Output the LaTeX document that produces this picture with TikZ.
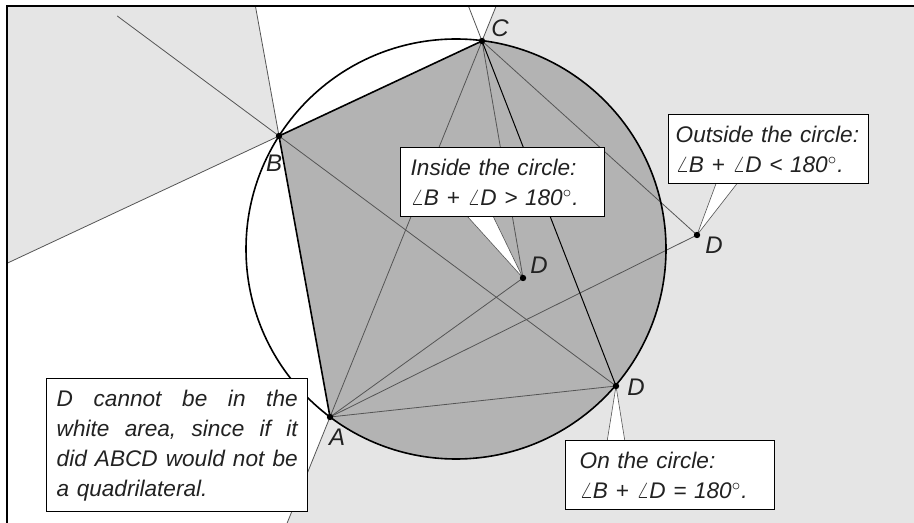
\documentclass[tikz,border=0pt]{standalone}
\usepackage{fontspec}
\setmainfont{Liberation Sans}
\usetikzlibrary{calc}
\definecolor{ShadeDark}{HTML}{B3B3B3}
\definecolor{ShadeLight}{HTML}{E5E5E5}
\definecolor{LineGray}{HTML}{555555}
\definecolor{TextInk}{HTML}{222222}

\begin{document}
\begin{tikzpicture}[x=0.5pt, y=-0.5pt,
      thinline/.style={LineGray, line width=0.4pt},
      side/.style={black, line width=0.8pt},
      pointer/.style={fill=white, draw=LineGray, line width=0.3pt},
      box/.style={draw=black, line width=0.7pt, fill=white, anchor=north west,
                  inner xsep=5pt, inner ysep=5.5pt, align=left, text=TextInk,
                  font=\fontsize{11.3}{15}\selectfont\itshape},
      lbl/.style={text=TextInk, inner sep=0pt, font=\fontsize{12}{14}\selectfont\itshape}]
  \useasboundingbox (0,0) rectangle (914,523);

  % Circle points and the three places of D
  \coordinate (O) at (456,249);
  \coordinate (A) at (330,417);
  \coordinate (B) at (279,136);
  \coordinate (C) at (482,41);
  \coordinate (Din) at (523,278);
  \coordinate (Don) at (616,386);
  \coordinate (Dout) at (697,235);

  \begin{scope}
    \clip (7,6) rectangle (914,523);
    % Regions
    \fill[ShadeLight] ($(A)!1.2!(C)$) -- (1000,-40) -- (1000,600) -- ($(A)!-0.4!(C)$) -- cycle;
    \fill[ShadeLight] (B) -- ($(A)!1.6!(B)$) -- (-100,-100) -- ($(C)!2.6!(B)$) -- cycle;
    \fill[ShadeDark] (B) -- (C) arc[start angle=277.1, end angle=486.9, radius=210] -- cycle;

    % Lines
    \draw[thinline] ($(A)!-0.4!(C)$) -- ($(A)!1.2!(C)$);
    \draw[thinline] (B) -- ($(A)!1.6!(B)$);
    \draw[thinline] (B) -- ($(C)!2.6!(B)$);
    \draw[thinline] (C) -- ($(Don)!1.2!(C)$);
    \draw[thinline] ($(B)!-0.48!(Don)$) -- (Don);
    \foreach \p in {Din, Dout} {
      \draw[thinline] (A) -- (\p) -- (C);
    }
    \draw[thinline] (A) -- (Don);
    \draw[black, line width=0.5pt] (C) -- (Don);
    \draw[side] (A) -- (B) -- (C);
    \draw[side] (O) circle[radius=210];
  \end{scope}

  % Frame
  \draw[line width=0.8pt] (914,6) -- (7,6) -- (7,523);

  % Pointers
  \coordinate (inL) at (467,216);
  \coordinate (inR) at (493,216);
  \coordinate (outL) at (717,181);
  \coordinate (outR) at (739,181);
  \coordinate (onL) at (607,442);
  \coordinate (onR) at (625,442);
  \filldraw[pointer] (inL) -- (Din) -- (inR);
  \filldraw[pointer] (outL) -- (Dout) -- (outR);
  \filldraw[pointer] (onL) -- (Don) -- (onR);

  \foreach \p in {A, B, C, Din, Don, Dout} {
    \fill (\p) circle[radius=3.2];
  }

  % Labels
  \node[lbl] (labA) at (337,437) {A};
  \node[lbl] (labB) at (274,163) {B};
  \node[lbl] (labC) at (500,28) {C};
  \node[lbl] (labDin) at (539,265) {D};
  \node[lbl] (labDout) at (714,245) {D};
  \node[lbl] (labDon) at (636,387) {D};

  % Boxes
  \node[box, text width=92pt] (inside) at (400,147)
    {\mbox{Inside the circle:}\\\mbox{$\angle$B + $\angle$D > 180$^\circ$.}};
  \node[box, inner xsep=3.5pt, text width=93pt] (outside) at (668,114)
    {\mbox{Outside the circle:}\\\mbox{$\angle$B + $\angle$D < 180$^\circ$.}};
  \node[box, inner xsep=7pt, text width=90.5pt] (oncircle) at (565,440)
    {\mbox{On the circle:}\\\mbox{$\angle$B + $\angle$D = 180$^\circ$.}};
  \node[box, text width=120.5pt] (cannot) at (46,378)
    {\makebox[120.5pt][l]{D \hfill cannot \hfill be \hfill in \hfill the}\\
     \makebox[120.5pt][l]{white \hfill area, \hfill since \hfill if \hfill it}\\
     \makebox[120.5pt][l]{did \hfill ABCD \hfill would \hfill not \hfill be}\\
     \mbox{a quadrilateral.}};
\end{tikzpicture}
\end{document}
